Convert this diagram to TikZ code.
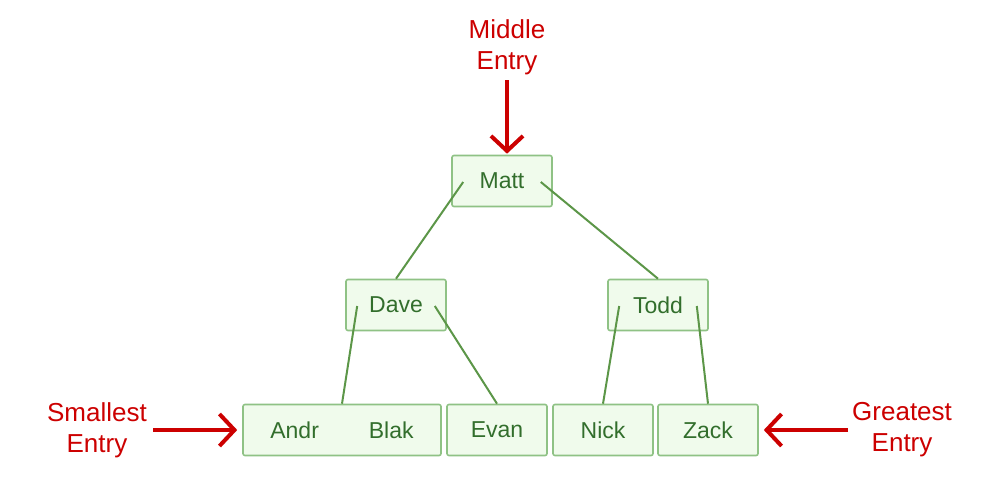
\documentclass[tikz,border=0pt]{standalone}
\usepackage{fontspec}
\setmainfont{Liberation Sans}
\usetikzlibrary{arrows.meta, positioning}
\definecolor{nodefill}{RGB}{240,251,236}
\definecolor{nodeline}{RGB}{143,194,133}
\definecolor{nodetext}{RGB}{50,110,44}
\definecolor{edgegreen}{RGB}{92,150,72}
\definecolor{markred}{RGB}{204,0,0}

\begin{document}
\begin{tikzpicture}[x=1pt, y=-1pt,
    keybox/.style={draw=nodeline, fill=nodefill, line width=1.6pt, rounded corners=2pt,
      minimum width=100pt, minimum height=51pt, inner sep=0pt,
      text=nodetext, font=\fontsize{23}{27}\selectfont},
    link/.style={draw=edgegreen, line width=2pt},
    entry/.style={draw=markred, line width=4pt, -{Straight Barb[length=15pt, width=32pt]}},
    entrylabel/.style={text=markred, align=center, inner sep=0pt, font=\fontsize{26}{31}\selectfont}]
    \useasboundingbox (0,0) rectangle (986,482);

    % Schlüssel
    \node[keybox] (matt) at (502,181) {Matt};
    \node[keybox] (dave) at (396,305) {Dave};
    \node[keybox] (todd) at (658,305) {Todd};
    \node[keybox, minimum width=198pt] (andr) at (342,430) {Andr\hspace{50pt}Blak};
    \node[keybox] (evan) at (497,430) {Evan};
    \node[keybox] (nick) at (603,430) {Nick};
    \node[keybox] (zack) at (708,430) {Zack};

    % Zeiger
    \foreach \n in {matt, dave, todd} {
        \coordinate (\n-l) at ([xshift=12pt, yshift=-1pt]\n.west);
        \coordinate (\n-r) at ([xshift=-12pt, yshift=-1pt]\n.east);
    }
    \draw[link] (matt-l) -- (dave.north);
    \draw[link] (matt-r) -- (todd.north);
    \draw[link] (dave-l) -- (andr.north);
    \draw[link] (dave-r) -- (evan.north);
    \draw[link] (todd-l) -- (nick.north);
    \draw[link] (todd-r) -- (zack.north);

    % Markierungen
    \coordinate (midtail) at (507,80);
    \coordinate (smalltail) at (153,430);
    \coordinate (greattail) at (848,430);
    \draw[entry, shorten >=1pt] (midtail) -- (midtail |- matt.north);
    \draw[entry, shorten >=5pt] (smalltail) -- (andr.west);
    \draw[entry, shorten >=5pt] (greattail) -- (zack.east);
    \node[entrylabel, above=5pt of midtail] (midlabel) {Middle\\Entry};
    \node[entrylabel, left=6pt of smalltail] (smalllabel) {Smallest\\Entry};
    \node[entrylabel, right=4pt of greattail] (greatlabel) {Greatest\\Entry};
\end{tikzpicture}
\end{document}
